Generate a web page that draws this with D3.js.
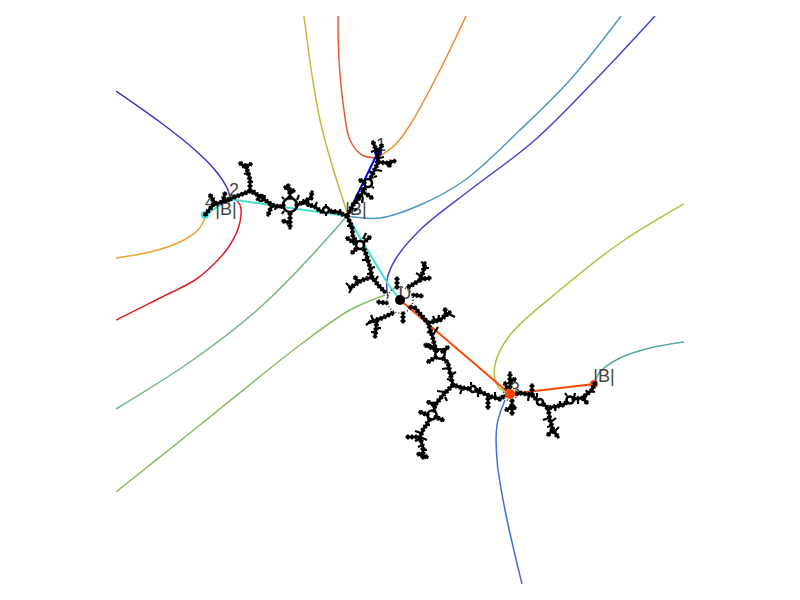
<!DOCTYPE html>
<html><head><meta charset="utf-8">
<script src="https://cdnjs.cloudflare.com/ajax/libs/d3/7.8.5/d3.min.js"></script>
<style>html,body{margin:0;background:#fff}svg{display:block}</style></head>
<body><svg id="c" width="800" height="600"></svg>
<script>
// All coordinates are in plot units, origin at the critical point.
const rays = [
 {color:"#4b2dbf", pts:[[-284,209],[-240,178],[-205,150],[-185,130],[-172,110],[-170,101]]},
 {color:"#e6a635", pts:[[-284,42],[-250,48],[-220,58],[-202,70],[-195,82]]},
 {color:"#e0202a", pts:[[-284,-20],[-240,2],[-205,20],[-187,35],[-170,55],[-160,78],[-160,95],[-168,103]]},
 {color:"#6fb583", pts:[[-284,-109],[-210,-62],[-145,-12],[-100,32],[-53,84]]},
 {color:"#8dbd62", pts:[[-284,-192],[-200,-125],[-100,-45],[-50,-10],[-15,5]]},
 {color:"#c9b63c", pts:[[-96,284],[-88,225],[-80,180],[-68,135],[-53,88]]},
 {color:"#e85c2a", pts:[[-62,284],[-61,240],[-56,190],[-50,160],[-38,145],[-22,142]]},
 {color:"#ee8a2e", pts:[[66,284],[40,230],[10,175],[-5,155],[-22,143]]},
 {color:"#4d97c5", pts:[[221,284],[170,220],[120,170],[65,120],[20,95],[-20,82],[-53,84]]},
 {color:"#4545d2", pts:[[255,284],[200,225],[135,160],[70,110],[20,70],[-5,40],[-13,20],[-12,2]]},
 {color:"#aec23f", pts:[[284,96],[220,57],[160,10],[110,-35],[95,-65],[97,-85],[110,-95]]},
 {color:"#5aa8a3", pts:[[284,-42],[250,-48],[220,-58],[200,-72],[194,-84]]},
 {color:"#4070de", pts:[[122,-284],[105,-210],[97,-160],[97,-125],[105,-100]]}
];
const blueSegment = [[-53,84],[-22,148]];
const cyanSegment = [[-195,85],[-170,101],[-130,95],[-110,92],[-53,84],[-12,16],[0,0]];
const redSegment = [[0,0],[110,-94],[194,-84]];
const branches = [
 [[-195,85],[-187,95],[-178,98],[-170,101]],
 [[-190,105],[-185,97]],[[-175,107],[-177,99]],
 [[-170,101],[-160,105],[-150,109],[-142,105],[-135,100],[-128,95],[-120,93],[-116,95]],
 [[-104,95],[-102,95],[-97,98],[-85,93],[-78,88]],[[-70,89],[-63,88],[-53,84]],
 [[-150,109],[-150,120],[-152,128],[-155,135]],[[-160,137],[-155,133],[-149,136]],
 [[-110,102],[-110,108],[-112,115]],[[-115,113],[-110,110],[-106,109]],
 [[-110,87],[-110,80],[-110,72]],[[-117,79],[-110,77]],
 [[-128,95],[-132,85]],[[-97,98],[-89,102],[-88,108]],
 [[-53,84],[-47,95],[-40,103],[-35,112]],[[-29,122],[-28,125],[-23,135],[-22,145],[-27,158]],
 [[-18,155],[-22,148]],[[-22,138],[-13,137],[-5,139]],[[-10,134],[-13,137]],
 [[-40,120],[-35,117]],[[-28,102],[-35,107]],[[-43,104],[-40,103]],
 [[-53,84],[-48,73],[-47,63],[-44,59]],
 [[-36,51],[-33,43],[-30,33],[-28,23],[-22,15],[-15,8]],
 [[-28,23],[-38,20],[-50,12]],[[-45,23],[-42,18]],
 [[-53,62],[-44,56]],[[-48,47],[-43,52]],[[-30,63],[-36,58]],
 [[8,13],[12,15],[20,20],[23,28],[25,37]],[[30,22],[22,21]],
 [[-3,22],[-3,12]],[[-22,-2],[-13,-3]],[[22,4],[13,5]],
 [[-7,-13],[-18,-18],[-30,-22]],[[-23,-20],[-25,-37]],[[3,-22],[3,-13]],
 [[10,-7],[15,-8],[28,-23],[32,-35],[35,-47],[37,-51]],
 [[28,-23],[40,-20],[50,-12]],[[45,-9],[46,-15]],
 [[25,-45],[33,-47]],[[48,-47],[43,-51]],
 [[43,-58],[48,-63],[50,-73],[53,-85],[63,-88],[70,-89]],
 [[76,-90],[83,-93],[92,-97],[100,-99],[104,-96]],
 [[53,-85],[43,-95],[35,-105],[34,-111]],
 [[30,-119],[23,-130],[20,-137],[23,-148],[23,-158]],
 [[7,-137],[20,-137]],[[27,-157],[18,-154]],[[28,-102],[35,-105]],
 [[20,-112],[28,-115]],[[43,-120],[35,-117]],
 [[28,-62],[36,-57]],[[27,-45],[37,-51]],[[45,-50],[42,-52]],
 [[88,-108],[88,-95]],
 [[110,-88],[110,-73]],[[115,-79],[110,-82]],[[105,-83],[107,-88]],
 [[112,-100],[112,-114]],[[115,-108],[112,-107]],[[106,-110],[112,-107]],
 [[116,-94],[120,-93],[132,-95],[137,-100]],
 [[143,-104],[148,-108],[163,-105],[167,-102]],
 [[173,-99],[182,-98],[192,-90],[195,-83]],
 [[148,-108],[150,-120],[153,-130],[158,-137]],[[148,-135],[153,-130]],
 [[132,-95],[132,-85]],[[187,-103],[183,-98]]
];
const twigs = [
 [[-150,119],[-147,118]],[[-152,127],[-156,126]],[[-145,110],[-146,107]],[[-135,105],[-136,100]],[[-125,90],[-124,94]],
 [[-118,103],[-116,101]],[[-101,105],[-103,100]],[[-118,86],[-116,89]],[[-92,93],[-91,97]],[[-83,98],[-85,94]],
 [[-74,96],[-74,94]],[[-74,84],[-74,86]],[[-67,86],[-67,90]],[[-60,91],[-59,86]],[[-144,100],[-141,102]],
 [[-46,89],[-43,91]],[[-38,97],[-37,103]],[[-41,111],[-37,111]],[[-26,112],[-28,113]],[[-23,124],[-26,123]],
 [[-18,129],[-23,130]],[[-31,129],[-27,126]],[[-29,148],[-24,150]],[[-16,143],[-21,142]],
 [[-38,40],[-33,40]],[[-25,33],[-29,32]],[[-33,26],[-29,26]],[[-22,24],[-25,19]],
 [[-54,17],[-50,13]],[[-51,7],[-48,12]],[[-34,67],[-37,61]],[[-53,74],[-48,74]],
 [[-29,-15],[-27,-20]],[[-34,-25],[-30,-22]],[[-19,-28],[-22,-28]],[[-29,-32],[-25,-32]],
 [[16,27],[21,24]],[[29,32],[24,32]],[[21,38],[25,36]],
 [[38,-27],[33,-35]],[[27,-32],[31,-33]],[[39,-15],[38,-20]],[[33,-16],[35,-21]],[[55,-17],[49,-14]],
 [[42,-69],[49,-68]],[[56,-72],[51,-75]],[[47,-79],[51,-80]],[[60,-94],[62,-89]],[[71,-82],[71,-85]],
 [[80,-87],[80,-91]],[[78,-97],[78,-92]],[[95,-92],[95,-97]],
 [[37,-91],[45,-92]],[[47,-101],[45,-97]],[[38,-101],[41,-98]],[[27,-125],[30,-125]],
 [[15,-131],[21,-133]],[[15,-141],[20,-139]],[[27,-140],[22,-138]],[[18,-147],[23,-145]],[[27,-150],[23,-150]],
 [[128,-101],[129,-95]],[[137,-93],[137,-97]],[[155,-111],[156,-106]],[[160,-101],[160,-105]],
 [[165,-93],[167,-96]],[[175,-93],[174,-98]],[[178,-104],[178,-98]],[[195,-92],[191,-91]],[[186,-90],[188,-94]],
 [[143,-120],[149,-118]],[[156,-118],[151,-122]],[[147,-127],[152,-126]],[[159,-127],[154,-132]]
];
const rings = [[-110,95,7],[-74,90,3],[-139,102,3],[-32,117,4],[-40,55,4],[40,-54,4.7],[73,-89,3],[32,-115,4.5],[140,-102,3],[170,-100,3.5]];
const fuzzyRings = [[0,0,13],[110,-94,6.5]];
const dotsUnder = [[194,-84,4,"#ff4500"],[-195,85,4,"#40e0d0"],[-170,101,3,"#40e0d0"],[-22,148,4,"#0000ee"]];
const dotsOver = [[0,0,5,"#000"],[110,-94,5,"#ff4500"]];
const labels = [["1",-19,149],["2",-166,104],["3",115,-95],["4",-190,92],["U",5,1],["|B|",-174,85],["|B|",-44,85],["|B|",204,-82]];

const X = d3.scaleLinear().domain([-284,284]).range([116,684]);
const Y = d3.scaleLinear().domain([-284,284]).range([584,16]);
const svg = d3.select("#c");
svg.append("clipPath").attr("id","plot").append("rect").attr("x",X(-284)).attr("y",Y(284)).attr("width",X(284)-X(-284)).attr("height",Y(-284)-Y(284));
const g = svg.append("g").attr("clip-path","url(#plot)");
const curve = d3.line().x(d=>X(d[0])).y(d=>Y(d[1])).curve(d3.curveCatmullRom.alpha(0.5));
const straight = d3.line().x(d=>X(d[0])).y(d=>Y(d[1]));

g.selectAll("path.ray").data(rays).join("path").attr("class","ray").attr("d",d=>curve(d.pts)).attr("fill","none").attr("stroke",d=>d.color).attr("stroke-width",1.5);
const seg=(pts,c)=>g.append("path").attr("d",straight(pts)).attr("fill","none").attr("stroke",c).attr("stroke-width",2);
seg(cyanSegment,"#40e0d0"); seg(blueSegment,"#0000ee"); seg(redSegment,"#ff4500");
g.selectAll("circle.du").data(dotsUnder).join("circle").attr("class","du").attr("cx",d=>X(d[0])).attr("cy",d=>Y(d[1])).attr("r",d=>d[2]).attr("fill",d=>d[3]);
svg.selectAll("text").data(labels).join("text").attr("x",d=>X(d[1])).attr("y",d=>Y(d[2])).text(d=>d[0]).attr("text-anchor","middle").attr("font-family","Liberation Sans").attr("font-size",18).attr("fill","#444");

const upper = svg.append("g").attr("clip-path","url(#plot)");
upper.selectAll("path.core").data(branches).join("path").attr("class","core").attr("d",straight).attr("fill","none").attr("stroke","#000").attr("stroke-width",3).attr("stroke-linecap","square");
upper.selectAll("path.twig").data(twigs).join("path").attr("class","twig").attr("d",straight).attr("fill","none").attr("stroke","#000").attr("stroke-width",2.2);
upper.selectAll("path.fuzz").data(branches).join("path").attr("class","fuzz").attr("d",straight).attr("fill","none").attr("stroke","#000").attr("stroke-width",5).attr("stroke-dasharray","2 2");
upper.selectAll("circle.ring").data(rings).join("circle").attr("class","ring").attr("cx",d=>X(d[0])).attr("cy",d=>Y(d[1])).attr("r",d=>d[2]).attr("fill","none").attr("stroke","#000").attr("stroke-width",2.6);
upper.selectAll("circle.fr").data(fuzzyRings).join("circle").attr("class","fr").attr("cx",d=>X(d[0])).attr("cy",d=>Y(d[1])).attr("r",d=>d[2]).attr("fill","none").attr("stroke","#333").attr("stroke-width",1.6).attr("stroke-dasharray","1 2");
upper.selectAll("circle.dot").data(dotsOver).join("circle").attr("class","dot").attr("cx",d=>X(d[0])).attr("cy",d=>Y(d[1])).attr("r",d=>d[2]).attr("fill",d=>d[3]);
</script></body></html>
